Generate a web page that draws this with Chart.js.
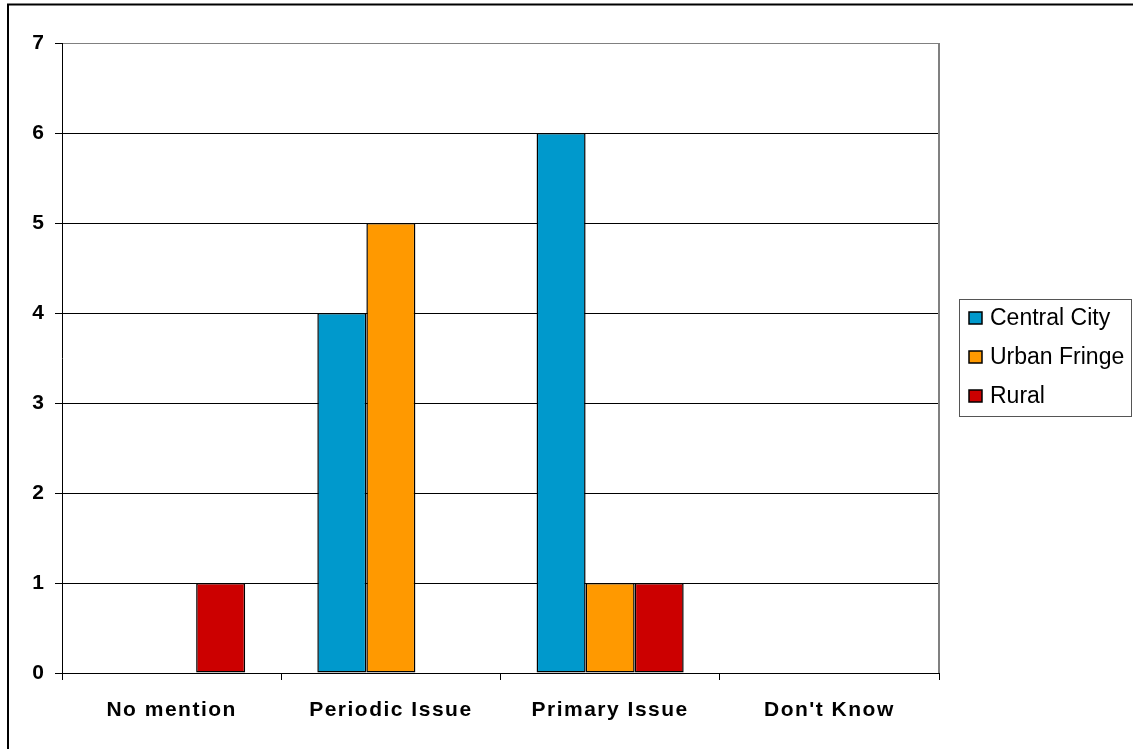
<!DOCTYPE html>
<html>
<head>
<meta charset="utf-8">
<script src="https://cdn.jsdelivr.net/npm/chart.js@4.4.0/dist/chart.umd.min.js"></script>
<style>
  html, body { margin: 0; padding: 0; background: #fff; }
  #wrap { width: 1133px; height: 749px; }
</style>
</head>
<body>
<div id="wrap"><canvas id="chart" width="1133" height="749"></canvas></div>
<script>
const categories = ['No mention', 'Periodic Issue', 'Primary Issue', "Don't Know"];
const centralCity = [0, 4, 6, 0];
const urbanFringe = [0, 5, 1, 0];
const rural = [1, 0, 1, 0];
const yTicks = [0, 1, 2, 3, 4, 5, 6, 7];

const FONT = "'Liberation Sans', Arial, sans-serif";

// frame, plot border and the boxed legend
const decorations = {
  id: 'decorations',
  beforeDraw(chart) {
    // spaced-out x labels like the original
    const xs = chart.scales.x;
    if (!xs._spaced) {
      const orig = xs.drawLabels.bind(xs);
      xs.drawLabels = function (area) {
        chart.ctx.save();
        chart.ctx.letterSpacing = '1.5px';
        orig(area);
        chart.ctx.restore();
      };
      xs._spaced = true;
    }
  },
  afterDraw(chart) {
    const ctx = chart.ctx;
    const a = chart.chartArea;
    ctx.save();
    // outer frame (left + top)
    ctx.strokeStyle = '#000';
    ctx.lineWidth = 2;
    ctx.beginPath();
    ctx.moveTo(8, chart.height);
    ctx.lineTo(8, 4.5);
    ctx.lineTo(chart.width, 4.5);
    ctx.stroke();

    // plot area right border
    ctx.strokeStyle = '#808080';
    ctx.lineWidth = 2;
    ctx.beginPath();
    ctx.moveTo(a.right, a.top);
    ctx.lineTo(a.right, a.bottom);
    ctx.stroke();

    // legend
    const box = { left: 959.5, top: 299.5, right: 1131.5, bottom: 416.5 };
    ctx.strokeStyle = '#555';
    ctx.lineWidth = 1;
    ctx.strokeRect(box.left, box.top, box.right - box.left, box.bottom - box.top);
    ctx.font = '23px ' + FONT;
    ctx.textBaseline = 'middle';
    chart.data.datasets.forEach((ds, i) => {
      const cy = 318 + i * 39;
      ctx.fillStyle = ds.backgroundColor;
      ctx.fillRect(969, cy - 6, 13, 12);
      ctx.strokeStyle = '#000';
      ctx.lineWidth = 1.5;
      ctx.strokeRect(969, cy - 6, 13, 12);
      ctx.fillStyle = '#000';
      ctx.fillText(ds.label, 990, cy + 1);
    });
    ctx.restore();
  }
};

const ctx = document.getElementById('chart').getContext('2d');
new Chart(ctx, {
  type: 'bar',
  data: {
    labels: categories,
    datasets: [
      { label: 'Central City', data: centralCity, backgroundColor: '#0099CC' },
      { label: 'Urban Fringe', data: urbanFringe, backgroundColor: '#FF9900' },
      { label: 'Rural', data: rural, backgroundColor: '#CC0000' }
    ].map(d => Object.assign(d, { borderColor: '#000', borderWidth: 1.5, borderSkipped: false }))
  },
  options: {
    responsive: false,
    animation: false,
    devicePixelRatio: 1,
    layout: { padding: { left: 10, top: 43, right: 194, bottom: 0 } },
    datasets: { bar: { categoryPercentage: 0.671, barPercentage: 1 } },
    plugins: {
      legend: { display: false },
      tooltip: { enabled: false }
    },
    scales: {
      x: {
        offset: true,
        afterFit(scale) { scale.height = 76; },
        grid: { offset: true, drawOnChartArea: false, tickLength: 7, color: '#000', lineWidth: 1 },
        border: { color: '#000', width: 1 },
        ticks: { color: '#000', padding: 18, font: { family: FONT, size: 21, weight: 'bold' } }
      },
      y: {
        min: 0,
        max: 7,
        afterFit(scale) { scale.width = 52; },
        afterBuildTicks(scale) { scale.ticks = yTicks.map(v => ({ value: v })); },
        grid: {
          tickLength: 7,
          lineWidth: 1,
          color: c => (c.tick && c.tick.value === 7 ? '#808080' : '#000'),
          tickColor: '#000'
        },
        border: { color: '#000', width: 1 },
        ticks: { color: '#000', padding: 11, font: { family: FONT, size: 21, weight: 'bold' } }
      }
    }
  },
  plugins: [decorations]
});
</script>
</body>
</html>
